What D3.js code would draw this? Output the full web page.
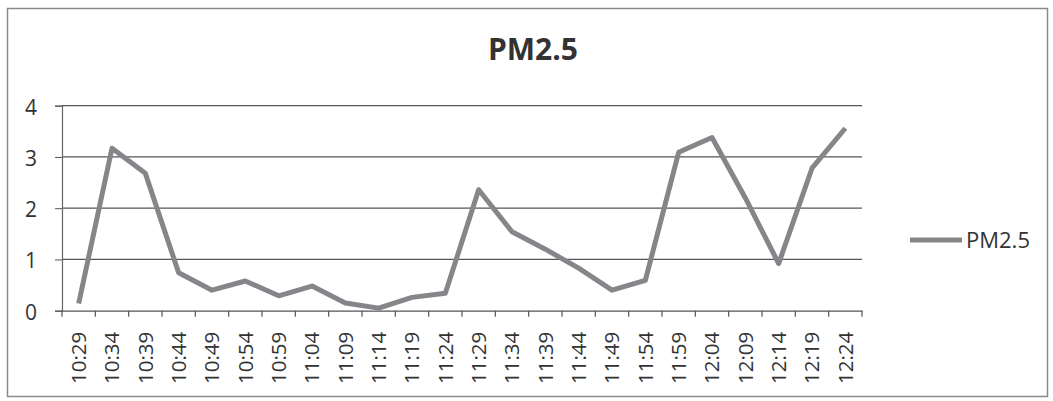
<!DOCTYPE html>
<html><head><meta charset="utf-8">
<script src="https://cdn.jsdelivr.net/npm/d3@7"></script>
<style>body{margin:0;background:#fff}svg{display:block}text{font-family:"Open Sans",sans-serif;fill:#333}</style>
</head><body><svg id="c" width="1053" height="401"></svg>
<script>
const categories = ["10:29","10:34","10:39","10:44","10:49","10:54","10:59","11:04","11:09","11:14","11:19","11:24","11:29","11:34","11:39","11:44","11:49","11:54","11:59","12:04","12:09","12:14","12:19","12:24"];
const pm25 = [0.14,3.17,2.68,0.74,0.40,0.58,0.29,0.48,0.15,0.05,0.26,0.34,2.36,1.54,1.20,0.83,0.40,0.59,3.09,3.38,2.20,0.92,2.78,3.56];
const yTicks = [0,1,2,3,4];
const seriesName = "PM2.5";
const title = "PM2.5";

const svg = d3.select("#c");
svg.append("rect").attr("x",7.5).attr("y",8.5).attr("width",1040).attr("height",388)
  .attr("fill","#fff").attr("stroke","#8a8a8a").attr("stroke-width",1.5);

const L=62, R=862, T=105.7, B=310.7;
const x = d3.scaleBand().domain(categories).range([L,R]);
const y = d3.scaleLinear().domain([0,4]).range([B,T]);

// gridlines
svg.append("g").selectAll("line").data(yTicks.filter(d=>d>0)).join("line")
  .attr("x1",L).attr("x2",R).attr("y1",d=>y(d)).attr("y2",d=>y(d))
  .attr("stroke","#555").attr("stroke-width",1.2);

// y axis
const ya = svg.append("g").attr("transform",`translate(${L},0)`)
  .call(d3.axisLeft(y).tickValues(yTicks).tickSize(7).tickPadding(18).tickFormat(d3.format("d")));
ya.select(".domain").attr("stroke","#666").attr("stroke-width",1.2);
ya.selectAll(".tick line").attr("stroke","#555");
ya.selectAll("text").style("font-size","21px").attr("fill","#333").attr("dy","0.4em").style("font-family","'Open Sans',sans-serif");

// x axis
const xa = svg.append("g").attr("transform",`translate(0,${B})`)
  .call(d3.axisBottom(x).tickSize(0).tickFormat(d=>d));
xa.select(".domain").attr("stroke","#555").attr("stroke-width",1.2);
xa.selectAll(".tick text").attr("transform","rotate(-90)").attr("text-anchor","end")
  .attr("x",-21).attr("y",0).attr("dy","0.35em").attr("fill","#333")
  .style("font-size","20.5px").style("font-family","'Open Sans',sans-serif");
// tick marks at band boundaries
svg.append("g").selectAll("line").data(categories.concat(["__end"])).join("line")
  .attr("x1",(d,i)=>L+i*x.step()).attr("x2",(d,i)=>L+i*x.step())
  .attr("y1",B).attr("y2",B+6).attr("stroke","#555").attr("stroke-width",1.2);

// line
svg.append("path").datum(pm25)
  .attr("d",d3.line().x((d,i)=>x(categories[i])+x.bandwidth()/2).y(d=>y(d)))
  .attr("fill","none").attr("stroke","#85858a").attr("stroke-width",5).attr("stroke-linejoin","round");

// title
svg.append("text").attr("x",533).attr("y",60).attr("text-anchor","middle")
  .style("font-size","30px").style("font-weight","bold").attr("fill","#222").text(title);

// legend
svg.append("line").attr("x1",910).attr("x2",962).attr("y1",240).attr("y2",240)
  .attr("stroke","#85858a").attr("stroke-width",5);
svg.append("text").attr("x",966).attr("y",240).attr("dy","0.36em")
  .style("font-size","22px").attr("fill","#333").text(seriesName);
</script></body></html>
